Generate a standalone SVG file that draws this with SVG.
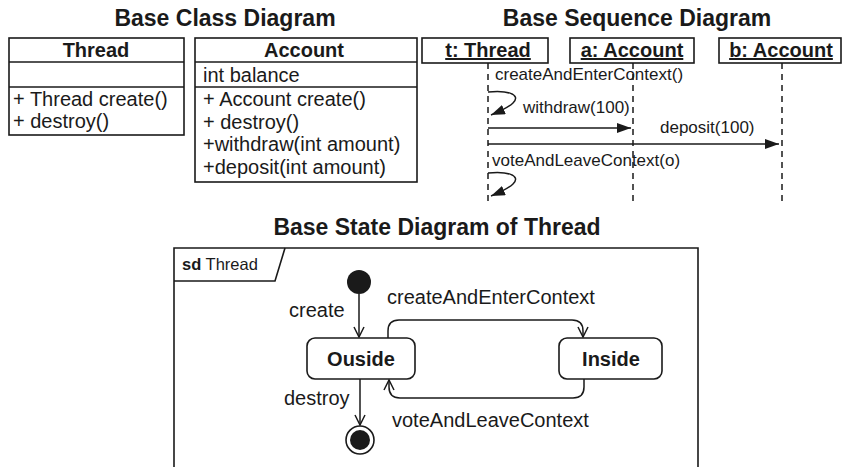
<svg xmlns="http://www.w3.org/2000/svg" width="843" height="467" viewBox="0 0 843 467">
<defs>
<marker id="filled" viewBox="0 0 14 10" refX="14" refY="5" markerWidth="14" markerHeight="10" markerUnits="userSpaceOnUse" orient="auto">
<path d="M0 0 L14 5 L0 10 Z" fill="#1a1a1a"/>
</marker>
<marker id="vee" viewBox="0 0 12 12" refX="11" refY="6" markerWidth="12" markerHeight="12" markerUnits="userSpaceOnUse" orient="auto">
<path d="M1 1 L11 6 L1 11" fill="none" stroke="#1a1a1a" stroke-width="1.5"/>
</marker>
</defs>
<style>
text { font-family: "Liberation Sans", Arial, sans-serif; fill: #1a1a1a; }
.title { font-size: 23px; font-weight: bold; text-anchor: middle; }
.hdr { font-size: 20px; font-weight: bold; text-anchor: middle; }
.mem { font-size: 20px; }
.obj { font-size: 20px; font-weight: bold; text-anchor: middle; text-decoration: underline; }
.msg { font-size: 17px; }
.lbl { font-size: 20px; }
.box { fill: #fff; stroke: #1a1a1a; stroke-width: 1.6; }
.line { fill: none; stroke: #1a1a1a; stroke-width: 1.6; }
.life { fill: none; stroke: #1a1a1a; stroke-width: 1.5; stroke-dasharray: 6 5; }
.conn { fill: none; stroke: #1a1a1a; stroke-width: 1.5; }
</style>
<rect width="843" height="467" fill="#fff"/>

<!-- Titles -->
<text class="title" x="225" y="26">Base Class Diagram</text>
<text class="title" x="637" y="26">Base Sequence Diagram</text>
<text class="title" x="437" y="235">Base State Diagram of Thread</text>

<!-- Class diagram -->
<g id="class-thread">
<rect class="box" x="9" y="38" width="175" height="97"/>
<line class="line" x1="9" y1="62" x2="184" y2="62"/>
<line class="line" x1="9" y1="87" x2="184" y2="87"/>
<text class="hdr" x="96" y="57">Thread</text>
<text class="mem" x="13" y="106">+ Thread create()</text>
<text class="mem" x="13" y="128">+ destroy()</text>
</g>
<g id="class-account">
<rect class="box" x="195" y="38" width="222" height="144"/>
<line class="line" x1="195" y1="62" x2="417" y2="62"/>
<line class="line" x1="195" y1="87" x2="417" y2="87"/>
<text class="hdr" x="304" y="57">Account</text>
<text class="mem" x="203" y="82">int balance</text>
<text class="mem" x="203" y="106">+ Account create()</text>
<text class="mem" x="203" y="128.5">+ destroy()</text>
<text class="mem" x="203" y="151">+withdraw(int amount)</text>
<text class="mem" x="203" y="173.5">+deposit(int amount)</text>
</g>

<!-- Sequence diagram -->
<g id="seq-t">
<rect class="box" x="422" y="38" width="126" height="25"/>
<text class="obj" x="488" y="57">t: Thread</text>
<line class="life" x1="488" y1="63" x2="488" y2="206"/>
</g>
<g id="seq-a">
<rect class="box" x="570" y="38" width="124" height="25"/>
<text class="obj" x="632" y="57">a: Account</text>
<line class="life" x1="633" y1="63" x2="633" y2="206"/>
</g>
<g id="seq-b">
<rect class="box" x="719" y="38" width="122" height="25"/>
<text class="obj" x="781" y="57">b: Account</text>
<line class="life" x1="782" y1="63" x2="782" y2="206"/>
</g>
<g id="seq-messages">
<path class="conn" d="M488 92 C506 90 522 94 513 103 C509 107 503 110 491 115" marker-end="url(#filled)"/>
<line class="conn" x1="488" y1="128" x2="631" y2="128" marker-end="url(#filled)"/>
<line class="conn" x1="488" y1="144" x2="779" y2="144" marker-end="url(#filled)"/>
<path class="conn" d="M488 173 C506 171 522 175 513 184 C509 188 503 191 491 196" marker-end="url(#filled)"/>
<text class="msg" x="495" y="80">createAndEnterContext()</text>
<text class="msg" x="523" y="113">withdraw(100)</text>
<text class="msg" x="660" y="133">deposit(100)</text>
<text class="msg" x="492" y="166">voteAndLeaveContext(o)</text>
</g>

<!-- State diagram -->
<g id="frame">
<path class="line" d="M174 470 V248 H698 V470"/>
<path class="line" d="M174 281 H275 L285 248"/>
<text x="182" y="270" style="font-size:16.5px"><tspan font-weight="bold">sd</tspan> Thread</text>
</g>
<g id="initial">
<circle cx="359" cy="282" r="12" fill="#1a1a1a"/>
</g>
<g id="state-outside">
<rect class="box" x="307" y="338" width="108" height="41" rx="8" ry="8"/>
<text class="hdr" x="361" y="366">Ouside</text>
</g>
<g id="state-inside">
<rect class="box" x="559" y="338" width="103" height="41" rx="8" ry="8"/>
<text class="hdr" x="611" y="366">Inside</text>
</g>
<g id="final">
<circle cx="360" cy="440" r="14" fill="#fff" stroke="#1a1a1a" stroke-width="1.6"/>
<circle cx="360" cy="440" r="10" fill="#1a1a1a"/>
</g>
<g id="state-transitions">
<line class="conn" x1="359" y1="294" x2="359" y2="337" marker-end="url(#vee)"/>
<path class="conn" d="M388 338 V331 Q388 320 399 320 H572 Q583 320 583 331 V337" marker-end="url(#vee)"/>
<path class="conn" d="M584 379 V387 Q584 398 573 398 H400 Q389 398 389 387 V380" marker-end="url(#vee)"/>
<line class="conn" x1="360" y1="379" x2="360" y2="425" marker-end="url(#vee)"/>
<text class="lbl" x="289" y="317">create</text>
<text class="lbl" x="387" y="304">createAndEnterContext</text>
<text class="lbl" x="284" y="405">destroy</text>
<text class="lbl" x="392" y="427">voteAndLeaveContext</text>
</g>
</svg>
